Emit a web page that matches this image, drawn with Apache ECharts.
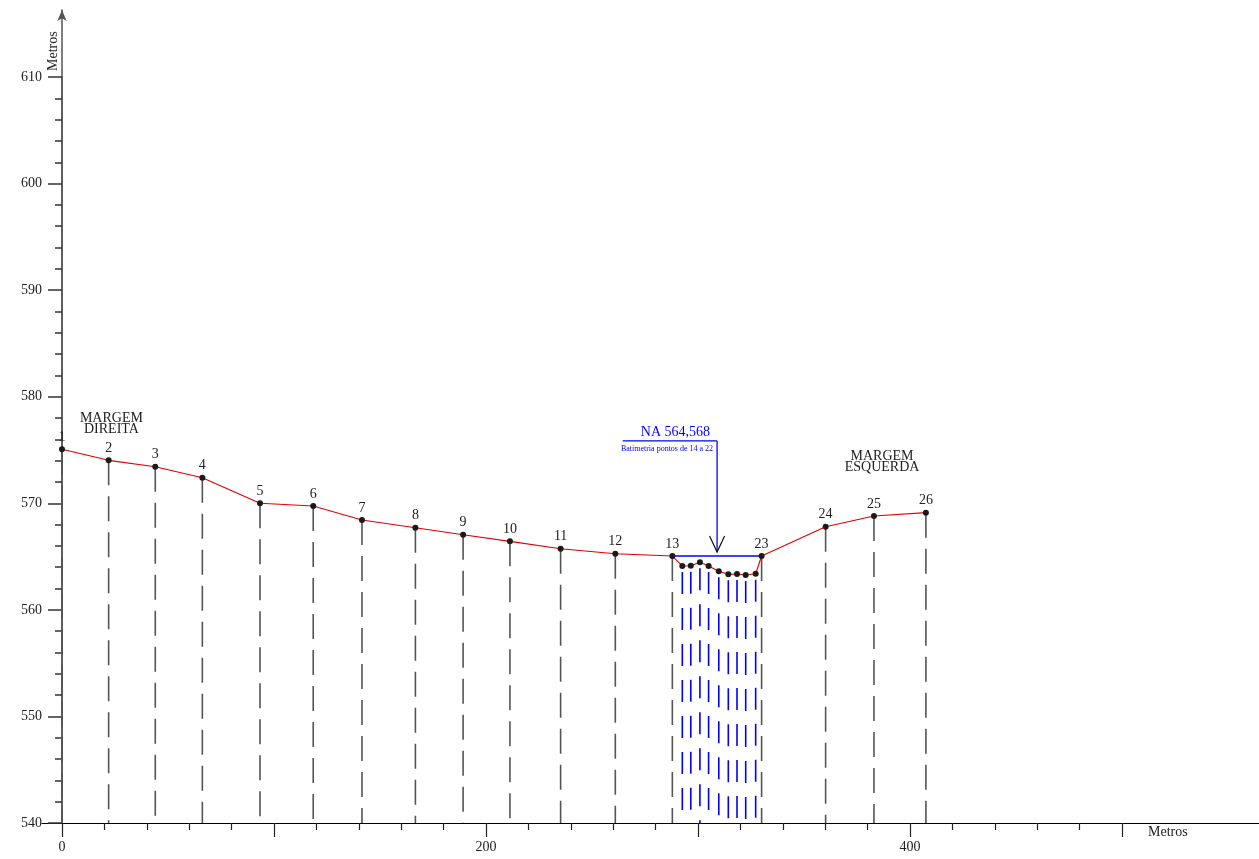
<!DOCTYPE html>
<html><head><meta charset="utf-8">
<script src="https://cdn.jsdelivr.net/npm/echarts@6/dist/echarts.min.js"></script>
<style>html,body{margin:0;padding:0;background:#fff}#c{width:1259px;height:859px}</style>
</head><body><div id="c"></div>
<script>
// ---- data ----
const pointIds   = [1,2,3,4,5,6,7,8,9,10,11,12,13,14,15,16,17,18,19,20,21,22,23,24,25,26];
const distances  = [0,22.0,44.0,66.2,93.4,118.5,141.5,166.7,189.2,211.3,235.2,261.0,287.9,
                    292.6,296.6,300.9,305.0,309.8,314.3,318.4,322.5,327.2,330.0,360.2,383.0,407.5];
const elevations = [575.07,574.03,573.43,572.40,570.0,569.75,568.43,567.71,567.05,566.43,565.74,565.27,565.05,
                    564.12,564.14,564.46,564.12,563.62,563.34,563.37,563.27,563.39,565.05,567.80,568.81,569.12];
const bathymetryIds = [14,15,16,17,18,19,20,21,22];
const waterLevel = 565.05;          // NA line as drawn
const waterLabel = 'NA 564,568';
const bathyNote  = 'Batimetria pontos de 14 a 22';
const xLabelValues = [0,200,400];
const bankTexts = ['MARGEM\nDIREITA','MARGEM\nESQUERDA'];
const axisNameX = 'Metros', axisNameY = 'Metros';

// ---- layout (annotation anchors in data units) ----
const X_MIN = 0, X_MAX = 500, X_INT = 100;
const Y_MIN = 540, Y_MAX = 610, Y_INT = 10;
const bankPos = [[23.3,577.5],[386.8,573.9]];
const notePos = {x0:264.5, x1:309.0, y:575.85};

const FONT = '"Liberation Serif", "DejaVu Serif", serif';
const chart = echarts.init(document.getElementById('c'), null, {renderer:'canvas'});

const lineData = distances.map((d,i)=>{
  const isB = bathymetryIds.includes(pointIds[i]);
  return {value:[d, elevations[i]], id: pointIds[i], label:{show:!isB}};
});
const vertData = distances.map((d,i)=>[d, elevations[i], bathymetryIds.includes(pointIds[i])?1:0]);

const i13 = pointIds.indexOf(13), i23 = pointIds.indexOf(23);

const option = {
  animation:false,
  backgroundColor:'#fff',
  grid:[
    {left:62, right:137, top:77, bottom:36},
    {left:42, right:0, top:10, bottom:36}
  ],
  xAxis:[
    {type:'value', gridIndex:0, min:X_MIN, max:X_MAX, interval:X_INT,
     axisLine:{show:true, onZero:false, lineStyle:{color:'#000', width:1}},
     axisTick:{show:true, length:14, lineStyle:{color:'#222', width:1.2}},
     minorTick:{show:true, splitNumber:5, length:7, lineStyle:{color:'#222', width:1.2}},
     splitLine:{show:false}, minorSplitLine:{show:false},
     axisLabel:{margin:17, color:'#222', fontFamily:FONT, fontSize:14,
       formatter:v=> xLabelValues.includes(v)? String(v):''},
     name:axisNameX, nameLocation:'end', nameGap:26,
     nameTextStyle:{fontFamily:FONT, fontSize:14, color:'#222', verticalAlign:'top', align:'left', padding:[2,0,0,0]}
    },
    {type:'value', gridIndex:1, min:0, max:1,
     axisLine:{show:true, onZero:false, lineStyle:{color:'#000', width:1}},
     axisTick:{show:false}, axisLabel:{show:false}, splitLine:{show:false}}
  ],
  yAxis:[
    {type:'value', gridIndex:0, min:Y_MIN, max:Y_MAX, interval:Y_INT,
     axisLine:{show:true, onZero:false, lineStyle:{color:'#555', width:1.5}},
     axisTick:{show:true, length:14, lineStyle:{color:'#333', width:1.5}},
     minorTick:{show:true, splitNumber:5, length:7, lineStyle:{color:'#333', width:1.5}},
     splitLine:{show:false}, minorSplitLine:{show:false},
     axisLabel:{margin:20, color:'#222', fontFamily:FONT, fontSize:14}
    },
    {type:'value', gridIndex:1, min:0, max:1, offset:-20,
     axisLine:{show:true, onZero:false, symbol:['none','arrow'], symbolSize:[7,11], symbolOffset:[0,0],
       lineStyle:{color:'#555', width:1.5}},
     axisTick:{show:false}, axisLabel:{show:false}, splitLine:{show:false}}
  ],
  graphic:[{
    type:'text', x:46, y:71, rotation:Math.PI/2,
    style:{text:axisNameY, font:'14px '+FONT, fill:'#222', align:'left', verticalAlign:'top'}
  }],
  series:[
    { // vertical dashed lines
      type:'custom', xAxisIndex:0, yAxisIndex:0, z:2, silent:true,
      renderItem:(params, api)=>{
        const x = api.value(0), y = api.value(1), b = api.value(2);
        const top = api.coord([x,y]), bot = api.coord([x,Y_MIN]);
        return {type:'line',
          shape:{x1:top[0], y1:top[1]+(b?6:0), x2:bot[0], y2:bot[1]},
          style:{stroke: b?'#0000ff':'#555', lineWidth:1.6, lineDash: b?[22,14]:[25,11]}};
      },
      data:vertData
    },
    { // water line + annotation
      type:'custom', xAxisIndex:0, yAxisIndex:0, z:3, silent:true,
      renderItem:(params, api)=>{
        const a = api.coord([distances[i13], waterLevel]);
        const b = api.coord([distances[i23], waterLevel]);
        const s = api.coord([notePos.x0, notePos.y]);
        const e = api.coord([notePos.x1, notePos.y]);
        const tip = api.coord([notePos.x1, waterLevel]);
        const tipY = tip[1]-4;
        return {type:'group', children:[
          {type:'line', shape:{x1:a[0],y1:a[1],x2:b[0],y2:b[1]}, style:{stroke:'#0000ff', lineWidth:1.6}},
          {type:'line', shape:{x1:s[0],y1:s[1],x2:e[0],y2:e[1]}, style:{stroke:'#0000ff', lineWidth:1.3}},
          {type:'line', shape:{x1:e[0],y1:e[1],x2:e[0],y2:tipY}, style:{stroke:'#0000ff', lineWidth:1.3}},
          {type:'polyline', shape:{points:[[e[0]-7.5,tipY-16],[e[0],tipY],[e[0]+7.5,tipY-16]]}, style:{stroke:'#111', lineWidth:1.2, fill:null}},
          {type:'text', x:e[0]-7, y:s[1]-2, style:{text:waterLabel, font:'14px '+FONT, fill:'#0000ff', align:'right', verticalAlign:'bottom'}},
          {type:'text', x:e[0]-4, y:s[1]+8, style:{text:bathyNote, font:'8px '+FONT, fill:'#0000ff', align:'right', verticalAlign:'middle'}}
        ]};
      },
      data:[[0]]
    },
    { // bank labels
      type:'custom', xAxisIndex:0, yAxisIndex:0, z:3, silent:true,
      renderItem:(params, api)=>{
        const i = params.dataIndex;
        const p = api.coord(bankPos[i]);
        return {type:'text', x:p[0], y:p[1], style:{text:bankTexts[i], font:'14px '+FONT, fill:'#222',
          align:'center', verticalAlign:'middle', lineHeight:11}};
      },
      data:[[0],[1]]
    },
    { // profile
      type:'line', xAxisIndex:0, yAxisIndex:0, z:4,
      data:lineData,
      symbol:'circle', symbolSize:6,
      itemStyle:{color:'#1a1a1a'},
      lineStyle:{color:'#e00000', width:1.1},
      label:{show:true, position:'top', distance:2, color:'#222', fontFamily:FONT, fontSize:14,
        formatter:p=>String(p.data.id)}
    }
  ]
};
chart.setOption(option);
</script>
</body></html>
